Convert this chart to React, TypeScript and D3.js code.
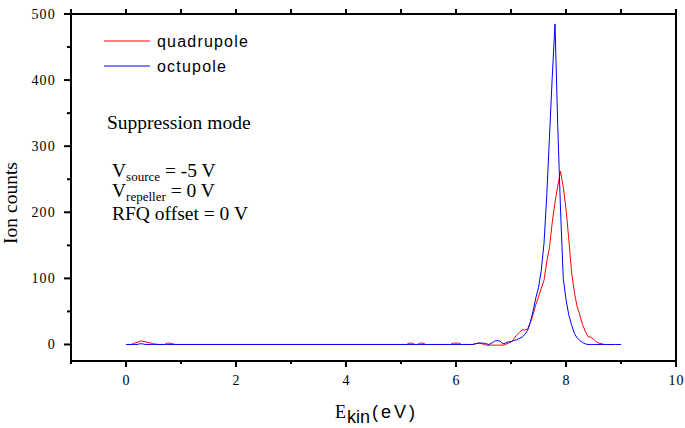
import * as d3 from "d3"

// energies (eV), shared by both series
const energies = [
  0, 0.1, 0.15, 0.2, 0.25, 0.3, 0.35, 0.4, 0.45, 0.5, 0.6, 0.7, 0.75, 0.8, 0.85, 0.9, 1.0,
  2.0, 3.0, 4.0, 5.0, 5.1, 5.15, 5.2, 5.25, 5.3, 5.35, 5.4, 5.45, 5.5, 5.8, 5.9, 5.95, 6.0,
  6.05, 6.1, 6.2, 6.3, 6.35, 6.4, 6.45, 6.5, 6.55, 6.6, 6.65, 6.7, 6.75, 6.8, 6.85, 6.9,
  6.95, 7.0, 7.05, 7.1, 7.15, 7.2, 7.25, 7.3, 7.35, 7.4, 7.45, 7.5, 7.55, 7.6, 7.65, 7.7,
  7.75, 7.8, 7.85, 7.9, 7.95, 8.0, 8.05, 8.1, 8.15, 8.2, 8.25, 8.3, 8.35, 8.4, 8.45, 8.5,
  8.55, 8.6, 8.65, 8.7, 8.8, 8.9, 9.0,
]

// quadrupole counts (null = not measured)
const quadrupole: (number | null)[] = [
  0, 0, 2, 3, 5, 5, 4, 3, 2, 1, 0, 0, 2, 2, 1, 0, 0,
  0, 0, 0, 0, 0, 2, 2, 0, 0, 2, 2, 0, 0, 0, 0, 2, 2,
  2, 0, 0, 0, 1, 2, 2, 0, -1, -1, -1, -1, -1, -1, -1, 0,
  2, 4, 8, 14, 18, 22, 22, 23, 33, 45, 60, 72, 85, 97, 125, 147,
  185, 215, 240, 262, 238, 205, 160, 110, 80, 58, 45, 30, 20, 12, 11, 8,
  4, 2, 1, 0, null, null, null,
]

// octupole counts
const octupole: (number | null)[] = [
  0, 0, 0, 0, 1, 1, 0, 0, 0, 0, 0, 0, 0, 0, 0, 0, 0,
  0, 0, 0, 0, 0, 0, 0, 0, 0, 0, 0, 0, 0, 0, 0, 0, 0,
  0, 0, 0, 0, 1, 2, 2, 2, 1, 0, 2, 5, 6, 5, 1, 2,
  4, 4, 6, 7, 9, 11, 15, 21, 33, 50, 70, 86, 112, 153, 225, 315,
  405, 485, 330, 205, 100, 68, 45, 30, 17, 10, 6, 3, 1, 0, 0, 0,
  0, 0, 0, 0, 0, 0, 0,
]

const xMajor = [0, 2, 4, 6, 8, 10]
const xMinor = [-1, 1, 3, 5, 7, 9]
const yMajor = [0, 100, 200, 300, 400, 500]
const yMinor = [50, 150, 250, 350, 450]

const W = 685
const H = 428
const X0 = 71
const X1 = 676
const Y0 = 14
const Y1 = 361

const serif = "Liberation Serif, Times New Roman, serif"
const sans = "Liberation Sans, Arial, sans-serif"

export default function App() {
  const x = d3.scaleLinear().domain([-1, 10]).range([X0, X1])
  const y = d3.scaleLinear().domain([-25, 500]).range([Y1, Y0])

  const line = d3
    .line<number | null>()
    .defined((d) => d !== null)
    .x((_, i) => x(energies[i]))
    .y((d) => y(d as number))

  return (
    <svg
      width={W}
      height={H}
      style={{ position: "absolute", left: 0, top: 0, background: "#fff" }}
    >
      <path d={line(quadrupole) ?? ""} fill="none" stroke="#ff0000" strokeWidth={1} />
      <path d={line(octupole) ?? ""} fill="none" stroke="#0000ff" strokeWidth={1} />

      {/* axes */}
      <g stroke="#000" strokeWidth={2}>
        <rect x={X0} y={Y0} width={X1 - X0} height={Y1 - Y0} fill="none" />
        {xMajor.map((v) => (
          <line key={`bM${v}`} x1={x(v)} x2={x(v)} y1={Y1} y2={Y1 + 6} />
        ))}
        {xMinor.map((v) => (
          <line key={`bm${v}`} x1={x(v)} x2={x(v)} y1={Y1} y2={Y1 + 3} />
        ))}
        {[...xMajor, ...xMinor].map((v) => (
          <line key={`t${v}`} x1={x(v)} x2={x(v)} y1={Y0} y2={Y0 - 5} />
        ))}
        {yMajor.map((v) => (
          <line key={`lM${v}`} x1={X0 - 7} x2={X0} y1={y(v)} y2={y(v)} />
        ))}
        {yMinor.map((v) => (
          <line key={`lm${v}`} x1={X0 - 4} x2={X0} y1={y(v)} y2={y(v)} />
        ))}
      </g>
      <g fontFamily={serif} fontSize={14} letterSpacing={1.2} fill="#000">
        {xMajor.map((v) => (
          <text key={`xl${v}`} x={x(v) + 0.6} y={385} textAnchor="middle">
            {v}
          </text>
        ))}
        {yMajor.map((v) => (
          <text key={`yl${v}`} x={56} y={y(v) + 4.8} textAnchor="end">
            {v}
          </text>
        ))}
      </g>

      {/* legend */}
      <line x1={104} x2={150} y1={41} y2={41} stroke="#ff0000" strokeWidth={1} />
      <text x={157} y={47} fontFamily={sans} fontSize={16} letterSpacing={1.2}>
        quadrupole
      </text>
      <line x1={104} x2={150} y1={66} y2={66} stroke="#0000ff" strokeWidth={1} />
      <text x={157} y={72} fontFamily={sans} fontSize={16} letterSpacing={1.2}>
        octupole
      </text>

      {/* annotation */}
      <g fontFamily={serif} fontSize={19.5}>
        <text x={107} y={129}>Suppression mode</text>
        <text x={112} y={177}>
          V<tspan fontSize={13} dy={4}>source</tspan>
          <tspan dy={-4}> = -5 V</tspan>
        </text>
        <text x={112} y={197}>
          V<tspan fontSize={13} dy={4}>repeller</tspan>
          <tspan dy={-4}> = 0 V</tspan>
        </text>
        <text x={112} y={220}>RFQ offset = 0 V</text>
      </g>

      {/* axis titles */}
      <text x={335} y={418} fontFamily={serif} fontSize={18}>E</text>
      <text x={347} y={423} fontFamily={sans} fontSize={18}>kin</text>
      <text x={372} y={418} fontFamily={sans} fontSize={18} letterSpacing={3}>(eV)</text>
      <text
        transform="translate(17,203) rotate(-90)"
        textAnchor="middle"
        fontFamily={serif}
        fontSize={19.5}
      >
        Ion counts
      </text>
    </svg>
  )
}
